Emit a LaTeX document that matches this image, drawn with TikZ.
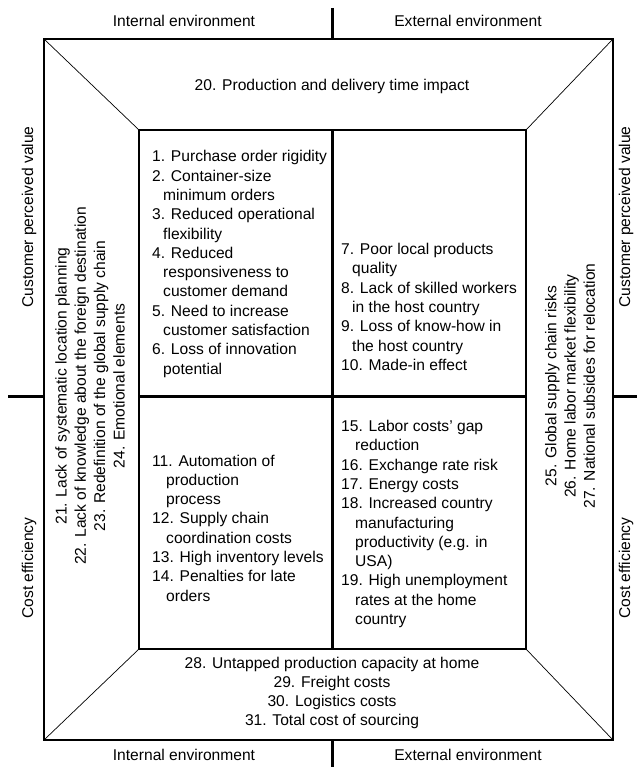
\documentclass[tikz,border=0pt]{standalone}
\usepackage{fontspec}
\setmainfont{Liberation Sans}
\tikzset{
  lbl/.style={font=\fontsize{15.6}{19.3}\selectfont, inner sep=0pt},
  items/.style={lbl, align=left, anchor=west},
  divider/.style={line width=3pt},
  frame/.style={line width=1.1pt},
  diag/.style={line width=0.7pt}
}
\newcommand{\ind}{\hspace*{11pt}}
\newcommand{\indd}{\hspace*{14pt}}

\begin{document}
\begin{tikzpicture}[x=1pt, y=-1pt]
\useasboundingbox (0,0) rectangle (637,767);
% outer and inner corners
\coordinate (otl) at (44,39);   \coordinate (otr) at (613,39);
\coordinate (obl) at (44,740);  \coordinate (obr) at (613,740);
\coordinate (itl) at (139,130); \coordinate (itr) at (526,130);
\coordinate (ibl) at (139,649); \coordinate (ibr) at (526,649);
\draw[frame] (otl) rectangle (obr);
\draw[frame] (itl) rectangle (ibr);
\draw[diag] (otl) -- (itl);
\draw[diag] (otr) -- (itr);
\draw[diag] (obl) -- (ibl);
\draw[diag] (obr) -- (ibr);
% axes of the matrix
\coordinate (vtop) at (332,8);   \coordinate (vbot) at (332,767);
\coordinate (hl) at (8,396);     \coordinate (hr) at (637,396);
\draw[divider] (vtop) -- (332,39);
\draw[divider] (332,740) -- (vbot);
\draw[divider] (hl) -- (44,396);
\draw[divider] (613,396) -- (hr);
\draw[divider] (332,130) -- (332,649);
\draw[divider] (139,396) -- (526,396);
% side labels
\node[lbl] (int-t) at (184,21) {Internal environment};
\node[lbl] (ext-t) at (468,21) {External environment};
\node[lbl] (int-b) at (184,755) {Internal environment};
\node[lbl] (ext-b) at (468,755) {External environment};
\node[lbl, rotate=90] (cpv-l) at (29,217) {Customer perceived value};
\node[lbl, rotate=90] (ce-l) at (29,568) {Cost efficiency};
\node[lbl, rotate=90] (cpv-r) at (626,217) {Customer perceived value};
\node[lbl, rotate=90] (ce-r) at (626,568) {Cost efficiency};
% trapezoids
\node[lbl] (top) at (332,86) {20. Production and delivery time impact};
\node[lbl, align=center] (bottom) at (332,693) {28. Untapped production capacity at home\\
  29. Freight costs\\30. Logistics costs\\31. Total cost of sourcing};
\node[lbl, align=center, rotate=90] (left) at (90,386) {21. Lack of systematic location planning\\
  22. Lack of knowledge about the foreign destination\\
  23. Redefinition of the global supply chain\\24. Emotional elements};
\node[lbl, align=center, rotate=90] (right) at (570,386) {25. Global supply chain risks\\
  26. Home labor market flexibility\\27. National subsides for relocation};
% quadrants
\node[items] (q1) at (152,264) {1. Purchase order rigidity\\
  2. Container-size\\ \ind minimum orders\\
  3. Reduced operational\\ \ind flexibility\\
  4. Reduced\\ \ind responsiveness to\\ \ind customer demand\\
  5. Need to increase\\ \ind customer satisfaction\\
  6. Loss of innovation\\ \ind potential};
\node[items] (q2) at (341,307) {7. Poor local products\\ \ind quality\\
  8. Lack of skilled workers\\ \ind in the host country\\
  9. Loss of know-how in\\ \ind the host country\\
  10. Made-in effect};
\node[items] (q3) at (152,528) {11. Automation of\\ \indd production\\ \indd process\\
  12. Supply chain\\ \indd coordination costs\\
  13. High inventory levels\\
  14. Penalties for late\\ \indd orders};
\node[items] (q4) at (341,524) {15. Labor costs' gap\\ \indd reduction\\
  16. Exchange rate risk\\
  17. Energy costs\\
  18. Increased country\\ \indd manufacturing\\ \indd productivity (e.g. in\\ \indd USA)\\
  19. High unemployment\\ \indd rates at the home\\ \indd country};
\end{tikzpicture}
\end{document}
